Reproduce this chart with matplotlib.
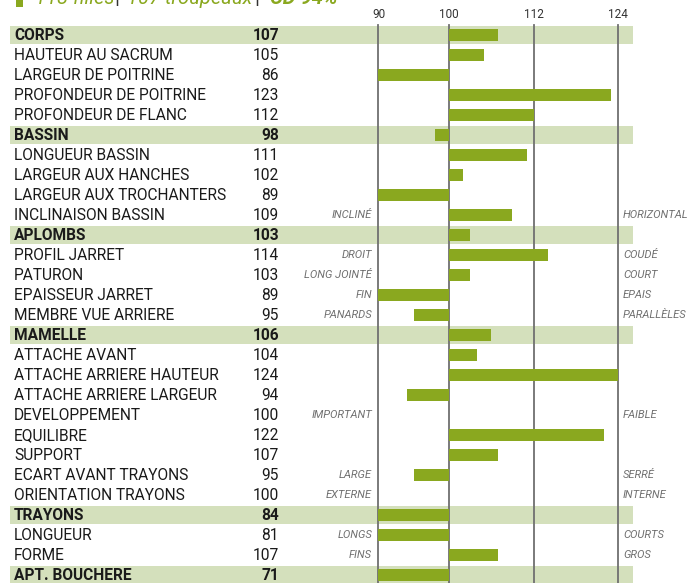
import matplotlib
matplotlib.use("Agg")
import matplotlib.pyplot as plt
from matplotlib.patches import Rectangle
import numpy as np

labels = ["CORPS", "HAUTEUR AU SACRUM", "LARGEUR DE POITRINE", "PROFONDEUR DE POITRINE",
          "PROFONDEUR DE FLANC", "BASSIN", "LONGUEUR BASSIN", "LARGEUR AUX HANCHES",
          "LARGEUR AUX TROCHANTERS", "INCLINAISON BASSIN", "APLOMBS", "PROFIL JARRET",
          "PATURON", "EPAISSEUR JARRET", "MEMBRE VUE ARRIERE", "MAMELLE", "ATTACHE AVANT",
          "ATTACHE ARRIERE HAUTEUR", "ATTACHE ARRIERE LARGEUR", "DEVELOPPEMENT", "EQUILIBRE",
          "SUPPORT", "ECART AVANT TRAYONS", "ORIENTATION TRAYONS", "TRAYONS", "LONGUEUR",
          "FORME", "APT. BOUCHERE"]
values = [107, 105, 86, 123, 112, 98, 111, 102, 89, 109, 103, 114, 103, 89, 95, 106, 104,
          124, 94, 100, 122, 107, 95, 100, 84, 81, 107, 71]
groups = ["CORPS", "BASSIN", "APLOMBS", "MAMELLE", "TRAYONS", "APT. BOUCHERE"]
left_desc = {"INCLINAISON BASSIN": "INCLINÉ", "PROFIL JARRET": "DROIT", "PATURON": "LONG JOINTÉ",
             "EPAISSEUR JARRET": "FIN", "MEMBRE VUE ARRIERE": "PANARDS",
             "DEVELOPPEMENT": "IMPORTANT", "ECART AVANT TRAYONS": "LARGE",
             "ORIENTATION TRAYONS": "EXTERNE", "LONGUEUR": "LONGS", "FORME": "FINS"}
right_desc = {"INCLINAISON BASSIN": "HORIZONTAL", "PROFIL JARRET": "COUDÉ", "PATURON": "COURT",
              "EPAISSEUR JARRET": "EPAIS", "MEMBRE VUE ARRIERE": "PARALLÈLES",
              "DEVELOPPEMENT": "FAIBLE", "ECART AVANT TRAYONS": "SERRÉ",
              "ORIENTATION TRAYONS": "INTERNE", "LONGUEUR": "COURTS", "FORME": "GROS"}
ticks = [90, 100, 112, 124]
header_parts = ["118 filles", "107 troupeaux", "CD 94%"]

FONT = ["Roboto", "DejaVu Sans"]
plt.rcParams['font.family'] = FONT

W, H = 694, 583
fig = plt.figure(figsize=(W / 100, H / 100), dpi=100)
ax = fig.add_axes([0, 0, 1, 1])
ax.set_axis_off()

px_per = 7.05
x0 = 449
def v_of_px(p):
    return 100 + (p - x0) / px_per

ax.set_xlim(v_of_px(0), v_of_px(W))
row0, step = 35, 20
ax.set_ylim((H - row0) / step, -row0 / step)

GREEN = "#8aa81f"
BAND = "#d4e0bc"
GRAY = "#707070"

n = len(labels)
for i, lab in enumerate(labels):
    if lab in groups:
        ax.add_patch(Rectangle((v_of_px(10), i - 0.43), v_of_px(633) - v_of_px(10), 0.86,
                               facecolor=BAND, edgecolor="none", zorder=1))

ytop = (25 - row0) / step
for t in ticks:
    ax.plot([t, t], [ytop, n + 1], color="#707070", lw=1.3, zorder=2)
    ax.text(t, (14 - row0) / step, str(t), ha="center", va="center", fontsize=8.5,
            color="#333333", zorder=3)

for i, v in enumerate(values):
    vc = min(max(v, 90), 124)
    ax.barh(i, vc - 100, left=100, height=0.56, color=GREEN, zorder=3)

for i, (lab, v) in enumerate(zip(labels, values)):
    bold = lab in groups
    ax.text(v_of_px(14), i + 0.03, lab, ha="left", va="center", fontsize=11.2,
            fontweight="bold" if bold else "normal", color="#1a1a1a", zorder=4)
    ax.text(v_of_px(279), i + 0.03, str(v), ha="right", va="center", fontsize=11.2,
            fontweight="bold" if bold else "normal", color="#1a1a1a", zorder=4)
    if lab in left_desc:
        ax.text(v_of_px(372), i, left_desc[lab], ha="right", va="center", fontsize=8,
                style="italic", color=GRAY, zorder=4)
    if lab in right_desc:
        ax.text(v_of_px(623), i, right_desc[lab], ha="left", va="center", fontsize=8,
                style="italic", color=GRAY, zorder=4)

fig.patches.append(Rectangle((16 / W, 1 - 7 / H), 7 / W, 7 / H, transform=fig.transFigure,
                             facecolor=GREEN, edgecolor="none"))
yb = 1 - 4 / H
fig.text(35 / W, yb, header_parts[0], ha="left", va="baseline", fontsize=14.5,
         style="italic", color=GREEN)
fig.text(117 / W, yb, "|", ha="center", va="baseline", fontsize=14.5, color="#333333")
fig.text(127 / W, yb, header_parts[1], ha="left", va="baseline", fontsize=14.5,
         style="italic", color=GREEN)
fig.text(257 / W, yb, "|", ha="center", va="baseline", fontsize=14.5, color="#333333")
fig.text(270 / W, yb, header_parts[2], ha="left", va="baseline", fontsize=14.5,
         style="italic", fontweight="bold", color=GREEN)

fig.savefig("out.png", dpi=100)
